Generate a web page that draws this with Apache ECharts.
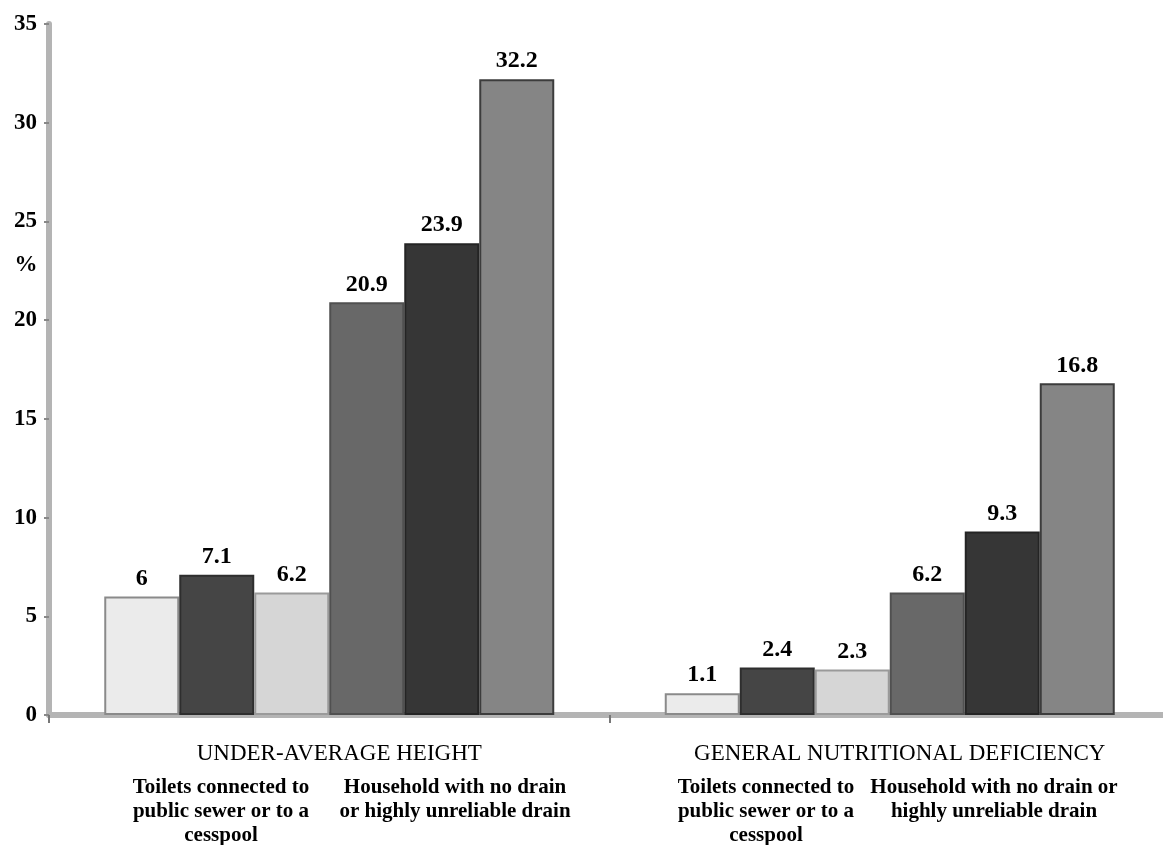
<!DOCTYPE html>
<html>
<head>
<meta charset="utf-8">
<script src="https://cdn.jsdelivr.net/npm/echarts@6/dist/echarts.min.js"></script>
<style>
html,body{margin:0;padding:0;background:#fff;overflow:hidden;}
#chart{width:1176px;height:845px;}
</style>
</head>
<body>
<div id="chart"></div>
<script>
// ---- data ----
const categories = ['UNDER-AVERAGE HEIGHT', 'GENERAL NUTRITIONAL DEFICIENCY'];
const sewerA = [6, 1.1];
const sewerB = [7.1, 2.4];
const sewerC = [6.2, 2.3];
const drainA = [20.9, 6.2];
const drainB = [23.9, 9.3];
const drainC = [32.2, 16.8];
const yTicks = [0, 5, 10, 15, 20, 25, 30, 35];
const subLabelSewer = 'Toilets connected to\npublic sewer or to a\ncesspool';
const subLabelDrain1 = 'Household with no drain\nor highly unreliable drain';
const subLabelDrain2 = 'Household with no drain or\nhighly unreliable drain';
const yUnit = '%';

// ---- styles ----
const serif = '"Liberation Serif", "Times New Roman", serif';
const barStyles = [
  {color: '#ebebeb', borderColor: '#8a8a8a'},
  {color: '#454545', borderColor: '#2e2e2e'},
  {color: '#d6d6d6', borderColor: '#9a9a9a'},
  {color: '#686868', borderColor: '#505050'},
  {color: '#363636', borderColor: '#242424'},
  {color: '#858585', borderColor: '#3c3c3c'}
];
const seriesData = [sewerA, sewerB, sewerC, drainA, drainB, drainC];

const chart = echarts.init(document.getElementById('chart'), null, {renderer: 'canvas'});

const series = seriesData.map((d, i) => ({
  type: 'bar',
  data: d,
  barWidth: 75,
  barGap: '0%',
  itemStyle: {color: barStyles[i].color, borderColor: barStyles[i].borderColor, borderWidth: 2},
  label: {
    show: true,
    position: 'top',
    distance: 6,
    color: '#000',
    fontFamily: serif,
    fontWeight: 'bold',
    fontSize: 24
  },
  emphasis: {disabled: true}
}));

const subFont = {fontFamily: serif, fontWeight: 'bold', fontSize: 21, lineHeight: 24, fill: '#000', textAlign: 'center', textVerticalAlign: 'top'};

chart.setOption({
  animation: false,
  backgroundColor: '#fff',
  grid: {left: 49, top: 24, right: 6, height: 691, containLabel: false},
  xAxis: {
    type: 'category',
    data: categories,
    axisLine: {show: true, lineStyle: {color: '#b4b4b4', width: 6}},
    axisTick: {show: true, alignWithLabel: false, length: 8, lineStyle: {color: '#777', width: 2}},
    axisLabel: {
      margin: 27,
      color: '#000',
      fontFamily: serif,
      fontSize: 23,
      padding: [0, 0, 0, 20]
    }
  },
  yAxis: {
    type: 'value',
    min: 0,
    max: 35,
    interval: 5,
    splitLine: {show: false},
    axisLine: {show: true, lineStyle: {color: '#b4b4b4', width: 6}},
    axisTick: {show: true, length: 5, lineStyle: {color: '#888', width: 2}},
    axisLabel: {
      margin: 12,
      color: '#000',
      fontFamily: serif,
      fontWeight: 'bold',
      fontSize: 23,
      formatter: v => yTicks.includes(v) ? String(v) : ''
    }
  },
  graphic: [
    {type: 'text', x: 26, y: 253, style: Object.assign({text: yUnit}, subFont, {fontSize: 23})},
    {type: 'text', x: 221, y: 776, style: Object.assign({text: subLabelSewer}, subFont)},
    {type: 'text', x: 455, y: 776, style: Object.assign({text: subLabelDrain1}, subFont)},
    {type: 'text', x: 766, y: 776, style: Object.assign({text: subLabelSewer}, subFont)},
    {type: 'text', x: 994, y: 776, style: Object.assign({text: subLabelDrain2}, subFont)}
  ],
  series: series
});
</script>
</body>
</html>
